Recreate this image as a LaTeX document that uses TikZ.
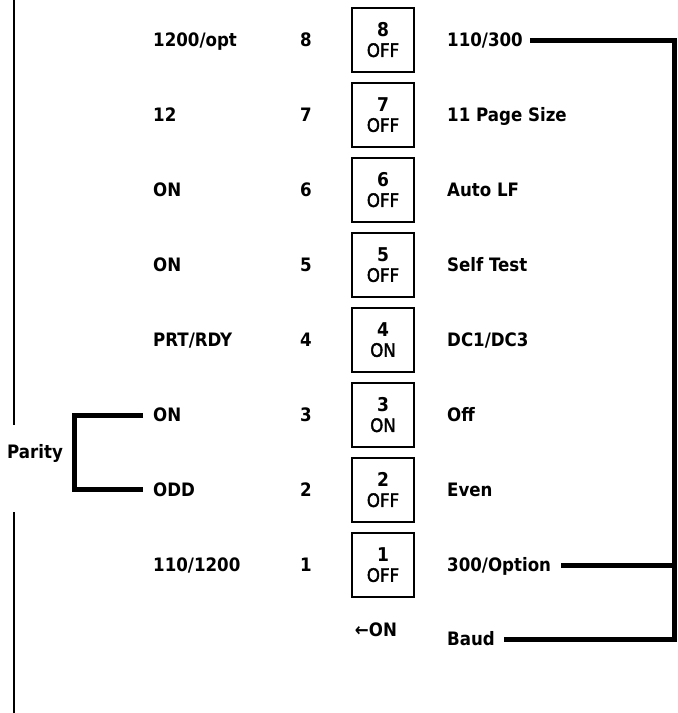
\documentclass[tikz,border=0pt]{standalone}
\usepackage{fontspec}
\setmainfont{DejaVu Sans}
\newfontfamily\mfont{DejaVu Sans Condensed}
\newfontfamily\boxfont{DejaVu Sans Condensed}[FakeBold=2]
\begin{document}
\begin{tikzpicture}[x=1pt,y=-1pt,
  lbl/.style={inner sep=0pt, text height=13.4pt, text depth=0pt,
    font=\mfont\bfseries\fontsize{18.5}{21}\selectfont},
  lw/.style={lbl, anchor=west},
  num/.style={lbl, anchor=center},
  swbox/.style={draw, line width=2.2pt, minimum width=62pt, minimum height=64pt,
    inner sep=0pt, align=center, font=\boxfont\fontsize{18.5}{21}\selectfont},
  conn/.style={line width=5pt},
  rule/.style={line width=2.6pt}]
\useasboundingbox (0,0) rectangle (678,713);
% switch boxes, numbers, labels
\foreach \n/\y/\st/\l/\r in {8/40/OFF/1200\slash opt/110\slash 300,
  7/115/OFF/12/11 Page Size,
  6/190/OFF/ON/Auto LF,
  5/265/OFF/ON/Self Test,
  4/340/ON/PRT\slash RDY/DC1\slash DC3,
  3/415/ON/ON/Off,
  2/490/OFF/ODD/Even,
  1/565/OFF/110\slash 1200/300\slash Option}{
  \node[swbox] (b\n) at (383,\y) {{\mfont\bfseries\fontsize{19}{21}\selectfont \n}\\[-1pt]\st};
  \node[num] (n\n) at (306,\y) {\n};
  \node[lw] (l\n) at (153,\y) {\l};
  \node[lw] (r\n) at (447,\y) {\r};
}
\node[num] (onarr) at (376,630) {←ON};
\node[lw] (baud) at (447,639) {Baud};
\node[lw] (parity) at (7,452) {Parity};
% right bracket (Baud)
\coordinate (rx) at (674,340);
\draw[conn] ([xshift=7pt]r8.east) -- (r8.east -| rx) -- (baud.east -| rx) -- ([xshift=9pt]baud.east);
\draw[conn] ([xshift=10pt]r1.east) -- (r1.east -| rx);
% parity bracket
\coordinate (bx) at (74,452);
\draw[conn] ([xshift=-10pt]l3.west) -- (l3.west -| bx) -- ([yshift=1pt]l2.west -| bx) -- ([xshift=-10pt,yshift=1pt]l2.west);
% left rule
\coordinate (lt) at (14,0);
\coordinate (lm1) at (14,425);
\coordinate (lm2) at (14,512);
\coordinate (lb) at (14,713);
\draw[rule] (lt) -- (lm1);
\draw[rule] (lm2) -- (lb);
\end{tikzpicture}
\end{document}
